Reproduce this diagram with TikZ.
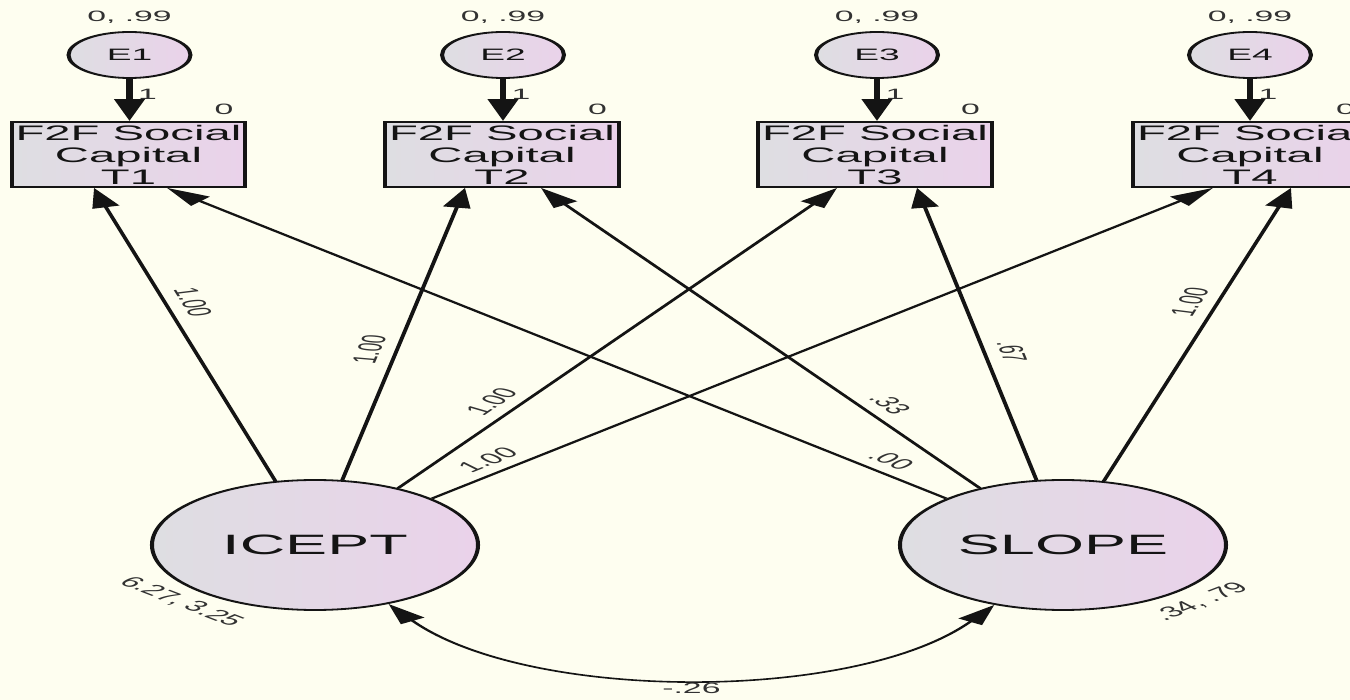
\documentclass[tikz,border=0pt]{standalone}
\usepackage{fontspec}
\setmainfont{Liberation Sans}
\usetikzlibrary{arrows.meta,calc,shapes.geometric}

\definecolor{paper}{RGB}{254,254,240}
\definecolor{shadeL}{RGB}{222,222,226}
\definecolor{shadeR}{RGB}{234,210,234}
\definecolor{ink}{RGB}{20,20,20}
\definecolor{numink}{RGB}{50,50,50}

\begin{document}
\begin{tikzpicture}[x=1pt,y=-1pt]
% page and background
\fill[paper] (0,0) rectangle (1350,700);
\useasboundingbox (0,0) rectangle (1350,700);

% the model is drawn narrow and widened as a whole
\begin{scope}[x=0.444444pt, transform canvas={xscale=2.25},
  every node/.style={text=ink},
  latent/.style={ellipse, draw=ink, line width=1.8pt, left color=shadeL, right color=shadeR, inner sep=0pt},
  errvar/.style={latent, minimum width=54.2pt, minimum height=46pt, font=\fontsize{16.5}{18}\selectfont},
  factor/.style={latent, minimum width=144.9pt, minimum height=130pt, font=\fontsize{28}{30}\selectfont},
  observed/.style={rectangle, draw=ink, line width=1.8pt, left color=shadeL, right color=shadeR,
    minimum width=103.6pt, minimum height=65pt, inner sep=0.5pt, align=center,
    font=\fontsize{21}{22}\selectfont},
  num/.style={text=numink, font=\fontsize{15}{17}\selectfont, inner sep=0pt},
  load/.style={draw=ink, line width=1.8pt, -{Triangle[length=20pt,width=12pt]}},
  errpath/.style={draw=ink, line width=2.8pt, -{Triangle[length=22pt,width=13pt]}},
  cov/.style={draw=ink, line width=1.6pt, {Triangle[length=20pt,width=12pt]}-{Triangle[length=20pt,width=12pt]}},
  lab/.style={num, sloped, above=6pt},
]

% error terms
\node[errvar] (e1) at (129.5,55) {E1};
\node[errvar] (e2) at (503,55) {E2};
\node[errvar] (e3) at (877,55) {E3};
\node[errvar] (e4) at (1250,55) {E4};

% observed measures
\node[observed] (t1) at (128.5,154.5) {F2F Social\\Capital\\T1};
\node[observed] (t2) at (502,154.5) {F2F Social\\Capital\\T2};
\node[observed] (t3) at (875,154.5) {F2F Social\\Capital\\T3};
\node[observed] (t4) at (1250,154.5) {F2F Social\\Capital\\T4};

% growth factors
\node[factor] (ic) at (315,545) {ICEPT};
\node[factor] (sl) at (1063,545) {SLOPE};

% error variances, fixed paths and intercepts
\foreach \e/\t in {e1/t1, e2/t2, e3/t3, e4/t4}{
  \node[num] (\e var) at ($(\e)+(0,-38)$) {0, .99};
  \draw[errpath] (\e) -- (\e |- \t.north);
  \node[num] (\e one) at ($(\e.south)+(18,15)$) {1};
  \node[num] (\t mean) at ($(\t.north east)+(-23,-12)$) {0};
}

% intercept loadings
\draw[load] (ic) -- node[lab, pos=0.600] (l1) {1.00} ($(t1.south)+(-34.5,0)$);
\draw[load] (ic) -- node[lab, pos=0.440] (l2) {1.00} ($(t2.south)+(-37,0)$);
\draw[load] (ic) -- node[lab, pos=0.265] (l3) {1.00} ($(t3.south)+(-38,0)$);
\draw[load] (ic) -- node[lab, pos=0.095] (l4) {1.00} ($(t4.south)+(-37,0)$);

% slope loadings
\draw[load] (sl) -- node[lab, pos=0.094] (s1) {.00} ($(t1.south)+(38.5,0)$);
\draw[load] (sl) -- node[lab, pos=0.257] (s2) {.33} ($(t2.south)+(39,0)$);
\draw[load] (sl) -- node[lab, pos=0.431] (s3) {.67} ($(t3.south)+(42,0)$);
\draw[load] (sl) -- node[lab, pos=0.600] (s4) {1.00} ($(t4.south)+(41,0)$);

% factor means and variances
\node[num, rotate=-40.8] (icstats) at ($(ic)+(-134,57)$) {6.27, 3.25};
\node[num, rotate=40.8] (slstats) at ($(sl)+(138,57)$) {.34, .79};

% factor covariance
\draw[cov] (ic.-61) .. controls +(140,98) and +(-140,98) .. node[num, below=4pt] (covlab) {-.26} (sl.-117);

\end{scope}
\end{tikzpicture}
\end{document}
